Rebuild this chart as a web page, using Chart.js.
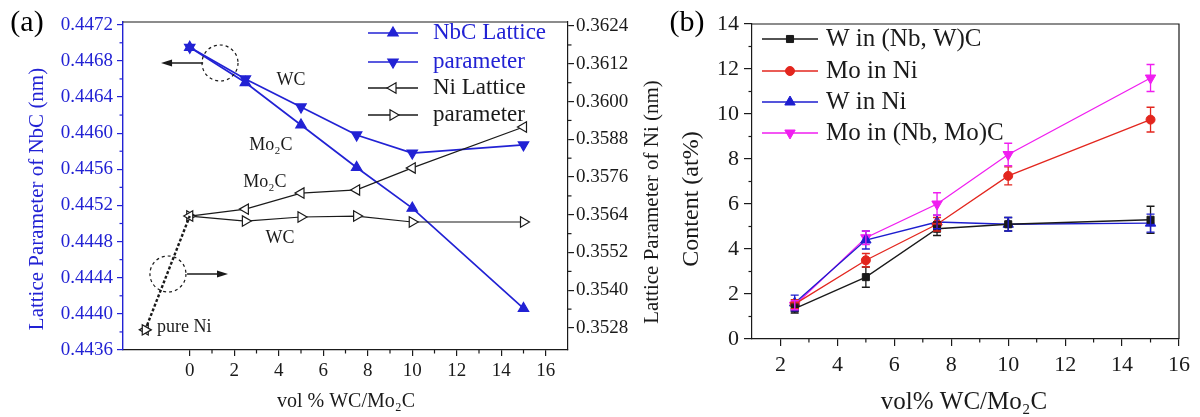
<!DOCTYPE html>
<html>
<head>
<meta charset="utf-8">
<script src="https://cdn.jsdelivr.net/npm/chart.js@4.4.1/dist/chart.umd.min.js"></script>
<style>
  html, body { margin: 0; padding: 0; background: #fff; }
  #wrap { position: relative; width: 1200px; height: 417px; overflow: hidden; }
  #chartA { position: absolute; left: 0; top: 0; }
  #chartB { position: absolute; left: 640px; top: 0; }
</style>
</head>
<body>
<div id="wrap">
  <canvas id="chartA" width="672" height="417"></canvas>
  <canvas id="chartB" width="560" height="417"></canvas>
</div>
<script>
// ---------- panel (a): lattice parameters ----------
const volA = [0, 2.5, 5, 7.5, 10, 15];
const nbcMo2C = [0.44695, 0.44656, 0.44609, 0.44562, 0.44517, 0.44406];
const nbcWC   = [0.44695, 0.44660, 0.44629, 0.44598, 0.44578, 0.44587];
const niMo2C  = [0.35636, 0.35658, 0.35709, 0.35719, 0.35789, 0.35919];
const niWC    = [0.35636, 0.35620, 0.35633, 0.35636, 0.35617, 0.35617];
const pureNiX = [-2, 0];
const pureNiY = [0.35274, 0.35636];
const ticksAx  = [0, 2, 4, 6, 8, 10, 12, 14, 16];
const ticksAy  = [0.4436, 0.4440, 0.4444, 0.4448, 0.4452, 0.4456, 0.4460, 0.4464, 0.4468, 0.4472];
const ticksAy2 = [0.3528, 0.3540, 0.3552, 0.3564, 0.3576, 0.3588, 0.3600, 0.3612, 0.3624];

// ---------- panel (b): content ----------
const volB = [2.5, 5, 7.5, 10, 15];
const wInNbWC   = [1.35, 2.75, 4.9, 5.1, 5.3];
const moInNi    = [1.55, 3.5, 5.1, 7.25, 9.75];
const wInNi     = [1.6, 4.4, 5.2, 5.1, 5.15];
const moInNbMoC = [1.5, 4.5, 6.0, 8.2, 11.6];
const errWInNbWC   = [0.2, 0.45, 0.3, 0.3, 0.6];
const errMoInNi    = [0.2, 0.3, 0.3, 0.4, 0.55];
const errWInNi     = [0.35, 0.4, 0.3, 0.3, 0.4];
const errMoInNbMoC = [0.2, 0.3, 0.5, 0.5, 0.6];
const ticksBx = [2, 4, 6, 8, 10, 12, 14, 16];
const ticksBy = [0, 2, 4, 6, 8, 10, 12, 14];

const serif = "'Liberation Serif', 'Times New Roman', serif";
const BLUE = '#2222d4';
const INK = '#1a1a1a';

function pts(xs, ys) { return xs.map((x, i) => ({ x: x, y: ys[i] })); }
function midpoints(arr) {
  const out = [];
  for (let i = 0; i < arr.length - 1; i++) out.push((arr[i] + arr[i + 1]) / 2);
  return out;
}
function setTicks(list) { return s => { s.ticks = list.map(v => ({ value: v })); }; }

function drawMark(ctx, style, rotation, r, x, y, fill, stroke, lw) {
  ctx.save();
  ctx.fillStyle = fill;
  ctx.strokeStyle = stroke;
  ctx.lineWidth = lw;
  Chart.helpers.drawPoint(ctx, { pointStyle: style, rotation: rotation, radius: r, borderWidth: lw }, x, y);
  ctx.restore();
}

function drawText(ctx, txt, x, y, size, color, rot, align) {
  ctx.save();
  ctx.translate(x, y);
  if (rot) ctx.rotate(rot);
  ctx.font = size + 'px ' + serif;
  ctx.fillStyle = color;
  ctx.textAlign = align || 'center';
  ctx.textBaseline = 'middle';
  ctx.fillText(txt, 0, 0);
  ctx.restore();
}

// short outward minor ticks + top/right frame
const frameAndMinor = {
  id: 'frameAndMinor',
  afterDraw(chart, args, opts) {
    const ctx = chart.ctx, a = chart.chartArea;
    ctx.save();
    ctx.lineWidth = 1.2;
    Object.keys(opts.minor || {}).forEach(id => {
      const sc = chart.scales[id];
      ctx.strokeStyle = opts.colors[id] || INK;
      opts.minor[id].forEach(v => {
        const p = sc.getPixelForValue(v);
        ctx.beginPath();
        if (sc.position === 'left') { ctx.moveTo(a.left, p); ctx.lineTo(a.left - 3.5, p); }
        else if (sc.position === 'right') { ctx.moveTo(a.right, p); ctx.lineTo(a.right + 3.5, p); }
        else { ctx.moveTo(p, a.bottom); ctx.lineTo(p, a.bottom + 3.5); }
        ctx.stroke();
      });
    });
    ctx.strokeStyle = INK;
    ctx.beginPath();
    ctx.moveTo(a.left, a.top);
    ctx.lineTo(a.right, a.top);
    if (opts.rightLine) ctx.lineTo(a.right, a.bottom);
    ctx.stroke();
    ctx.restore();
  }
};

// ---------- chart (a) ----------
const annA = [
  { type: 'circle', x: 1.36, y: 0.446776, r: 18 },
  { type: 'arrow', x1: 0.6, x2: -1.29, y: 0.446776 },
  { type: 'circle', x: -0.98, y: 0.444441, r: 18 },
  { type: 'arrow', x1: -0.12, x2: 1.72, y: 0.444441 },
  { type: 'text', text: 'WC', x: 4.55, y: 0.446588, align: 'center' },
  { type: 'text', text: 'Mo\u2082C', x: 3.65, y: 0.445869, align: 'center' },
  { type: 'text', text: 'Mo\u2082C', x: 3.38, y: 0.445459, align: 'center' },
  { type: 'text', text: 'WC', x: 4.06, y: 0.44484, align: 'center' },
  { type: 'text', text: 'pure Ni', x: -1.47, y: 0.443855, align: 'left' }
];

const legendA = [
  { style: 'triangle', rot: 0, color: BLUE, fill: BLUE, text: 'NbC Lattice', textColor: BLUE, y: 33 },
  { style: 'triangle', rot: 180, color: BLUE, fill: BLUE, text: 'parameter', textColor: BLUE, y: 62 },
  { style: 'triangle', rot: 270, color: INK, fill: '#fff', text: 'Ni Lattice', textColor: INK, y: 88 },
  { style: 'triangle', rot: 90, color: INK, fill: '#fff', text: 'parameter', textColor: INK, y: 115 }
];

const decorA = {
  id: 'decorA',
  afterDraw(chart) {
    const ctx = chart.ctx, sx = chart.scales.x, sy = chart.scales.y;
    ctx.save();
    annA.forEach(o => {
      if (o.type === 'circle') {
        ctx.strokeStyle = INK; ctx.lineWidth = 1.2; ctx.setLineDash([3, 3]);
        ctx.beginPath();
        ctx.arc(sx.getPixelForValue(o.x), sy.getPixelForValue(o.y), o.r, 0, Math.PI * 2);
        ctx.stroke();
        ctx.setLineDash([]);
      } else if (o.type === 'arrow') {
        const x1 = sx.getPixelForValue(o.x1), x2 = sx.getPixelForValue(o.x2), y = sy.getPixelForValue(o.y);
        const d = x2 > x1 ? 1 : -1;
        ctx.strokeStyle = INK; ctx.fillStyle = INK; ctx.lineWidth = 1.3;
        ctx.beginPath(); ctx.moveTo(x1, y); ctx.lineTo(x2 - d * 8, y); ctx.stroke();
        ctx.beginPath(); ctx.moveTo(x2, y); ctx.lineTo(x2 - d * 11, y - 3.5); ctx.lineTo(x2 - d * 11, y + 3.5); ctx.closePath(); ctx.fill();
      } else {
        drawText(ctx, o.text, sx.getPixelForValue(o.x), sy.getPixelForValue(o.y), 18, INK, 0, o.align);
      }
    });
    // legend
    legendA.forEach(l => {
      ctx.strokeStyle = l.color; ctx.lineWidth = 1.5;
      ctx.beginPath(); ctx.moveTo(368, l.y); ctx.lineTo(418, l.y); ctx.stroke();
      drawMark(ctx, l.style, l.rot, 6, 393, l.y, l.fill, l.color, 1.2);
      drawText(ctx, l.text, 433, l.y, 23, l.textColor, 0, 'left');
    });
    // titles
    drawText(ctx, '(a)', 27, 23, 30, '#000', 0, 'center');
    drawText(ctx, 'Lattice Parameter of NbC (nm)', 37, 199, 21, BLUE, -Math.PI / 2, 'center');
    drawText(ctx, 'Lattice Parameter of Ni (nm)', 652, 202, 21, INK, -Math.PI / 2, 'center');
    drawText(ctx, 'vol % WC/Mo\u2082C', 346, 402, 20, INK, 0, 'center');
    ctx.restore();
  }
};

function lineSet(label, xs, ys, axis, color, fill, style, rot, lw) {
  return {
    label: label, data: pts(xs, ys), yAxisID: axis,
    borderColor: color, borderWidth: lw, backgroundColor: fill,
    pointStyle: style, pointRotation: rot, pointRadius: 6,
    pointBackgroundColor: fill, pointBorderColor: color, pointBorderWidth: 1.2,
    tension: 0
  };
}

const dsPureNi = lineSet('pure Ni', pureNiX, pureNiY, 'y2', INK, '#fff', 'triangle', 90, 2.4);
dsPureNi.borderDash = [3, 2];
dsPureNi.pointRadius = [6, 0];
const dsPureNi2 = lineSet('pure Ni 2', pureNiX, pureNiY, 'y2', INK, '#fff', 'triangle', 270, 1.2);
dsPureNi2.showLine = false;
dsPureNi2.pointRadius = [6, 0];

const axisFont = { family: serif, size: 19 };

new Chart(document.getElementById('chartA'), {
  type: 'line',
  data: {
    datasets: [
      dsPureNi, dsPureNi2,
      lineSet('Ni Mo2C', volA, niMo2C, 'y2', INK, '#fff', 'triangle', 270, 1.2),
      lineSet('Ni WC', volA, niWC, 'y2', INK, '#fff', 'triangle', 90, 1.2),
      lineSet('NbC Mo2C', volA, nbcMo2C, 'y', BLUE, BLUE, 'triangle', 0, 1.7),
      lineSet('NbC WC', volA, nbcWC, 'y', BLUE, BLUE, 'triangle', 180, 1.7)
    ]
  },
  options: {
    responsive: false,
    animation: false,
    layout: { padding: { top: 22, left: 0, right: 0, bottom: 0 } },
    plugins: {
      legend: { display: false },
      tooltip: { enabled: false },
      frameAndMinor: {
        minor: { x: midpoints(ticksAx), y: midpoints(ticksAy), y2: midpoints(ticksAy2) },
        colors: { x: INK, y: BLUE, y2: INK },
        rightLine: false
      }
    },
    scales: {
      x: {
        type: 'linear', min: -3, max: 17,
        afterBuildTicks: setTicks(ticksAx),
        afterFit: s => { s.height = 67; },
        ticks: { font: axisFont, color: INK, padding: 4, callback: v => v },
        grid: { display: true, drawOnChartArea: false, drawTicks: true, tickLength: 6, color: INK, lineWidth: 1.2 },
        border: { display: true, color: INK, width: 1.2 }
      },
      y: {
        type: 'linear', position: 'left', min: 0.4436, max: 0.44723,
        afterBuildTicks: setTicks(ticksAy),
        afterFit: s => { s.width = 123; },
        ticks: { font: axisFont, color: BLUE, padding: 4, callback: v => v.toFixed(4) },
        grid: { display: true, drawOnChartArea: false, drawTicks: true, tickLength: 6, color: BLUE, lineWidth: 1.2 },
        border: { display: true, color: BLUE, width: 1.4 }
      },
      y2: {
        type: 'linear', position: 'right', min: 0.3521, max: 0.36253,
        afterBuildTicks: setTicks(ticksAy2),
        afterFit: s => { s.width = 104; },
        ticks: { font: axisFont, color: INK, padding: 2, callback: v => v.toFixed(4) },
        grid: { display: true, drawOnChartArea: false, drawTicks: true, tickLength: 6, color: INK, lineWidth: 1.2 },
        border: { display: true, color: INK, width: 1.2 }
      }
    }
  },
  plugins: [frameAndMinor, decorA]
});

// ---------- chart (b) ----------
const RED = '#e3261e', BLUE_B = '#1d1dcf', MAG = '#f01ef0';

const seriesB = [
  { label: 'W in (Nb, W)C', values: wInNbWC, errors: errWInNbWC, color: INK, style: 'rect', rot: 0, r: 5 },
  { label: 'Mo in Ni', values: moInNi, errors: errMoInNi, color: RED, style: 'circle', rot: 0, r: 4.5 },
  { label: 'W in Ni', values: wInNi, errors: errWInNi, color: BLUE_B, style: 'triangle', rot: 0, r: 6 },
  { label: 'Mo in (Nb, Mo)C', values: moInNbMoC, errors: errMoInNbMoC, color: MAG, style: 'triangle', rot: 180, r: 6 }
];
const legendRowsB = [39, 71, 102, 133];

const decorB = {
  id: 'decorB',
  afterDatasetsDraw(chart) {
    const ctx = chart.ctx, sy = chart.scales.y;
    ctx.save();
    ctx.lineWidth = 1.3;
    seriesB.forEach((s, i) => {
      const meta = chart.getDatasetMeta(i);
      ctx.strokeStyle = s.color;
      s.values.forEach((v, j) => {
        const x = meta.data[j].x;
        const yt = sy.getPixelForValue(v + s.errors[j]);
        const yb = sy.getPixelForValue(v - s.errors[j]);
        ctx.beginPath();
        ctx.moveTo(x, yt); ctx.lineTo(x, yb);
        ctx.moveTo(x - 4, yt); ctx.lineTo(x + 4, yt);
        ctx.moveTo(x - 4, yb); ctx.lineTo(x + 4, yb);
        ctx.stroke();
      });
    });
    ctx.restore();
  },
  afterDraw(chart) {
    const ctx = chart.ctx;
    const ox = 640;
    ctx.save();
    seriesB.forEach((s, i) => {
      const y = legendRowsB[i];
      ctx.strokeStyle = s.color; ctx.lineWidth = 1.3;
      ctx.beginPath(); ctx.moveTo(762 - ox, y); ctx.lineTo(818 - ox, y); ctx.stroke();
      drawMark(ctx, s.style, s.rot, s.r, 790 - ox, y, s.color, s.color, 1);
      drawText(ctx, s.label, 826 - ox, y, 25, INK, 0, 'left');
    });
    drawText(ctx, '(b)', 687 - ox, 23, 30, '#000', 0, 'center');
    drawText(ctx, 'Content (at%)', 692 - ox, 199, 24, INK, -Math.PI / 2, 'center');
    drawText(ctx, 'vol% WC/Mo\u2082C', 964 - ox, 402, 25, INK, 0, 'center');
    ctx.restore();
  }
};

const fontB = { family: serif, size: 22 };

new Chart(document.getElementById('chartB'), {
  type: 'line',
  data: {
    datasets: seriesB.map(s => ({
      label: s.label, data: pts(volB, s.values),
      borderColor: s.color, borderWidth: 1.3, backgroundColor: s.color,
      pointStyle: s.style, pointRotation: s.rot, pointRadius: s.r,
      pointBackgroundColor: s.color, pointBorderColor: s.color, pointBorderWidth: 1,
      tension: 0
    }))
  },
  options: {
    responsive: false,
    animation: false,
    layout: { padding: { top: 24, left: 0, right: 21, bottom: 0 } },
    plugins: {
      legend: { display: false },
      tooltip: { enabled: false },
      frameAndMinor: {
        minor: { x: midpoints(ticksBx), y: midpoints(ticksBy) },
        colors: { x: INK, y: INK },
        rightLine: true
      }
    },
    scales: {
      x: {
        type: 'linear', min: 1, max: 16,
        afterBuildTicks: setTicks(ticksBx),
        afterFit: s => { s.height = 78; },
        ticks: { font: fontB, color: INK, padding: 6, callback: v => v },
        grid: { display: true, drawOnChartArea: false, drawTicks: true, tickLength: 7, color: INK, lineWidth: 1.2 },
        border: { display: true, color: INK, width: 1.2 }
      },
      y: {
        type: 'linear', position: 'left', min: 0, max: 14,
        afterBuildTicks: setTicks(ticksBy),
        afterFit: s => { s.width = 112; },
        ticks: { font: fontB, color: INK, padding: 5, callback: v => v },
        grid: { display: true, drawOnChartArea: false, drawTicks: true, tickLength: 8, color: INK, lineWidth: 1.2 },
        border: { display: true, color: INK, width: 1.2 }
      }
    }
  },
  plugins: [frameAndMinor, decorB]
});
</script>
</body>
</html>
